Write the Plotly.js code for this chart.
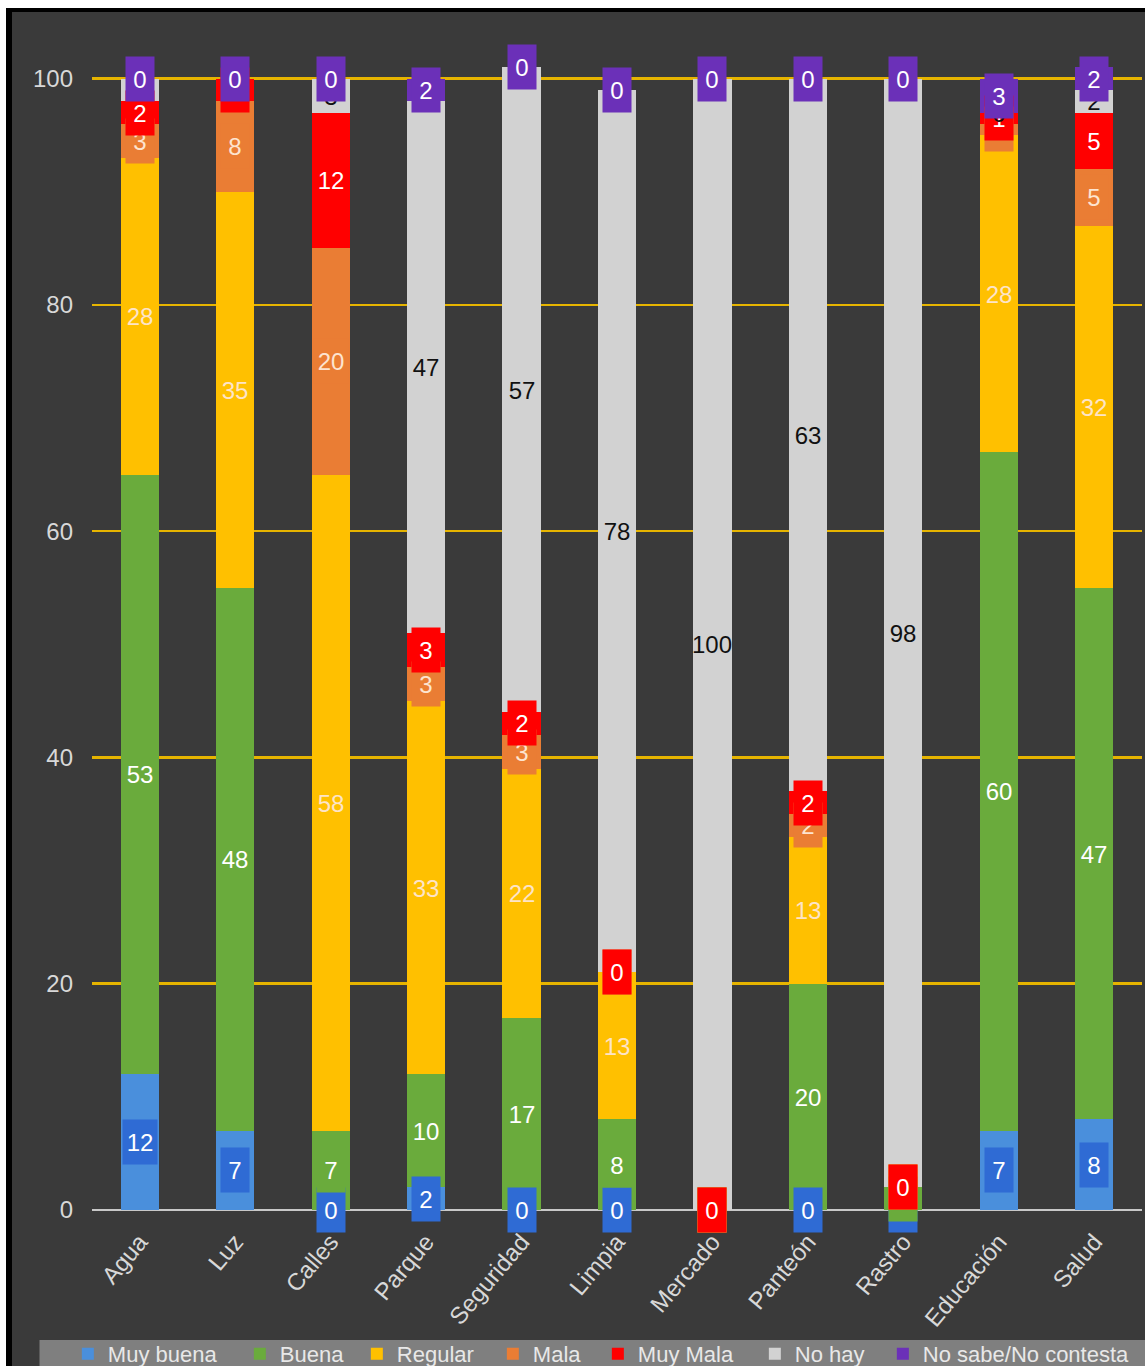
<!DOCTYPE html>
<html><head><meta charset="utf-8">
<script src="https://cdn.plot.ly/plotly-3.0.1.min.js"></script>
<style>
html,body{margin:0;padding:0;background:#fff;}
#wrap{position:absolute;left:6px;top:8px;border-left:6px solid #000;border-top:4px solid #000;width:1133px;height:1354px;}
#chart{width:1133px;height:1354px;}
</style></head><body><div id="wrap"><div id="chart"></div></div>
<script>
const categories = ["Agua","Luz","Calles","Parque","Seguridad","Limpia","Mercado","Panteón","Rastro","Educación","Salud"];
const seriesNames = ["Muy buena","Buena","Regular","Mala","Muy Mala","No hay","No sabe/No contesta"];
const muyBuena = [12,7,0,2,0,0,0,0,0,7,8];
const buena    = [53,48,7,10,17,8,0,20,2,60,47];
const regular  = [28,35,58,33,22,13,0,13,0,28,32];
const mala     = [3,8,20,3,3,0,0,2,0,1,5];
const muyMala  = [2,2,12,3,2,0,0,2,0,1,5];
const noHay    = [2,0,3,47,57,78,100,63,98,0,2];
const noSabe   = [0,0,0,2,0,0,0,0,0,3,2];
const yTicks = [0,20,40,60,80,100];

const seriesValues = [muyBuena,buena,regular,mala,muyMala,noHay,noSabe];
const barColors = ["#4a8fdc","#6aab3c","#ffc000","#ea7d34","#ff0000","#d2d2d2","#6b30b8"];
const boxColors = ["#2f6bd4","#6aab3c","#ffc000","#ea7d34","#ff0000","rgba(0,0,0,0)","#6b30b8"];
const textColors = ["#ffffff","#ffffff","#fde4c8","#fde4d0","#ffffff","#111111","#ffffff"];
const legendWidths = [127,72,91,60,112,83,220];
const FONT = "'Liberation Sans','Arial',sans-serif";

const traces = seriesValues.map((vals, s) => ({
  type: "bar", name: seriesNames[s], x: categories, y: vals,
  marker: {color: barColors[s], line: {width: 0}},
  legendwidth: legendWidths[s],
  hoverinfo: "skip"
}));

const annotations = [];
const base = categories.map(() => 0);
seriesValues.forEach((vals, s) => {
  vals.forEach((v, i) => {
    const t = String(v);
    annotations.push({
      x: categories[i], y: base[i] + v / 2, xref: "x", yref: "y",
      text: t, showarrow: false,
      font: {family: FONT, size: 24, color: textColors[s]},
      bgcolor: boxColors[s], borderpad: 0,
      width: t.length === 1 ? 28 : (t.length === 2 ? 34 : 42), height: 44
    });
    base[i] += v;
  });
});

const layout = {
  width: 1133, height: 1354,
  margin: {l: 80, r: 3, t: 10, b: 156, autoexpand: false},
  paper_bgcolor: "#3a3a3a", plot_bgcolor: "#3a3a3a",
  barmode: "stack", bargap: 0.6,
  showlegend: true,
  legend: {orientation: "h", x: -0.023, xanchor: "left", y: -0.1212, yanchor: "middle",
           font: {family: FONT, size: 22, color: "#e8e8e8"}, bgcolor: "rgba(0,0,0,0)",
           itemclick: false, traceorder: "normal"},
  font: {family: FONT},
  xaxis: {type: "category", tickangle: -50, showgrid: false, zeroline: false, showline: false,
          tickfont: {family: FONT, size: 24, color: "#d8d8d8"}, ticks: "", ticklabelstandoff: 12},
  yaxis: {range: [0, 105], tickvals: yTicks, ticktext: yTicks.map(String),
          showgrid: true, gridcolor: "#e6b400", gridwidth: 2.5,
          zeroline: true, zerolinecolor: "#c8c8c8", zerolinewidth: 2,
          tickfont: {family: FONT, size: 24, color: "#d8d8d8"}, ticks: "", ticklabelstandoff: 18},
  shapes: [{type: "rect", xref: "paper", yref: "paper", x0: -0.05, x1: 1.01, y0: -0.16, y1: -0.1094,
            fillcolor: "#7f7f7f", line: {width: 0}, layer: "below"}],
  annotations: annotations
};

Plotly.newPlot("chart", traces, layout, {displayModeBar: false, staticPlot: true});
</script></body></html>
